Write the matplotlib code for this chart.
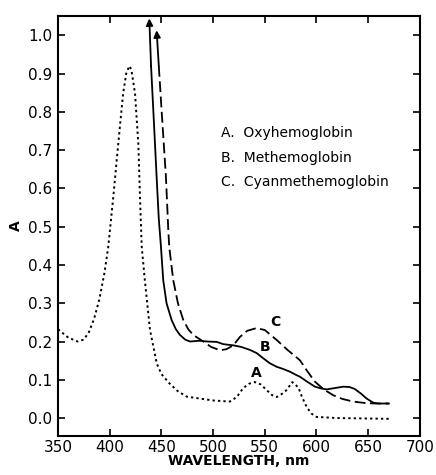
import matplotlib
matplotlib.use('Agg')
import matplotlib.pyplot as plt

# A. Oxyhemoglobin (dotted)
wl_a = [350, 360, 369, 375, 380, 385, 390, 395, 398.6, 403.5, 408.3, 413, 416, 419,
        421, 424.5, 427.7, 429.3, 431, 434, 439, 445.5, 450, 458, 466, 474.5, 487,
        500, 516, 523, 529, 535, 540.5, 546, 551.8, 557, 561.5, 566, 571, 576.6,
        582.5, 586, 590.5, 595, 600, 620, 645, 670]
abs_a = [0.232, 0.21, 0.20, 0.205, 0.225, 0.26, 0.31, 0.38, 0.447, 0.578, 0.717, 0.848,
         0.9, 0.92, 0.91, 0.848, 0.717, 0.578, 0.447, 0.36, 0.23, 0.143, 0.115, 0.09,
         0.07, 0.056, 0.051, 0.046, 0.043, 0.055, 0.078, 0.09, 0.094, 0.088, 0.073,
         0.06, 0.055, 0.062, 0.073, 0.094, 0.08, 0.055, 0.029, 0.012, 0.003, 0.0,
         -0.001, -0.002]

# B. Methemoglobin (solid)
wl_b = [438.3, 440, 442.2, 445.4, 447.5, 449.6, 451.8, 455, 459.9, 464, 468, 473, 477.6,
        487, 494, 503.5, 510, 519.6, 527, 535.7, 542, 548.6, 555, 561.5, 568, 574.4,
        580, 584, 591, 598.5, 605, 609.8, 617, 626, 632, 637, 643, 648.5, 655, 660, 670]
abs_b = [1.044, 0.92, 0.804, 0.63, 0.52, 0.447, 0.36, 0.3, 0.256, 0.232, 0.217, 0.205,
         0.2, 0.202, 0.2, 0.199, 0.193, 0.19, 0.186, 0.178, 0.17, 0.156, 0.143, 0.134,
         0.128, 0.121, 0.113, 0.108, 0.095, 0.082, 0.077, 0.075, 0.078, 0.082, 0.081,
         0.076, 0.064, 0.051, 0.04, 0.038, 0.038]

# C. Cyanmethemoglobin (dashed)
wl_c = [445.4, 447.5, 450.2, 454.4, 456.7, 457.6, 461.5, 466, 471.2, 476, 480.9, 490.5,
        498, 506.7, 513, 519.6, 526, 533, 542, 550, 561.5, 572, 584, 591, 598.5, 607,
        616, 625, 635.6, 648, 658, 670]
abs_c = [1.013, 0.92, 0.804, 0.63, 0.49, 0.447, 0.36, 0.3, 0.256, 0.232, 0.217, 0.2,
         0.186, 0.177, 0.18, 0.19, 0.212, 0.228, 0.235, 0.23, 0.204, 0.178, 0.151,
         0.123, 0.095, 0.075, 0.06, 0.05, 0.043, 0.039, 0.038, 0.038]

legend_lines = ['A.  Oxyhemoglobin', 'B.  Methemoglobin', 'C.  Cyanmethemoglobin']
x_ticks = [350, 400, 450, 500, 550, 600, 650, 700]
y_ticks = [0.0, 0.1, 0.2, 0.3, 0.4, 0.5, 0.6, 0.7, 0.8, 0.9, 1.0]

fig = plt.figure(figsize=(4.36, 4.75), dpi=100)
ax = fig.add_axes([0.133, 0.082, 0.83, 0.884])

ax.plot(wl_a, abs_a, color='k', lw=1.4, linestyle=(0, (1.2, 1.6)))
ax.plot(wl_b[1:], abs_b[1:], color='k', lw=1.3)
ax.plot(wl_c[1:], abs_c[1:], color='k', lw=1.3, linestyle=(0, (6, 2.5)))

# arrowheads at top of B and C
for wl, ab in ((wl_b, abs_b), (wl_c, abs_c)):
    ax.annotate('', xy=(wl[0], ab[0]), xytext=(wl[1], ab[1]),
                arrowprops=dict(arrowstyle='-|>', color='k', lw=1.3,
                                mutation_scale=10, shrinkA=0, shrinkB=0))

ax.set_xlim(350, 700)
ax.set_ylim(-0.047, 1.05)
ax.set_xticks(x_ticks)
ax.set_yticks(y_ticks)
ax.set_yticklabels([f'{v:.1f}' for v in y_ticks])
ax.tick_params(direction='in', length=5, width=1.2, top=True, right=True,
               labelsize=11, pad=4)
ax.tick_params(axis='x', pad=3)
for s in ax.spines.values():
    s.set_linewidth(1.5)

ax.set_xlabel('WAVELENGTH, nm', fontsize=10, fontweight='bold', labelpad=-1)
ax.text(-0.115, 0.5, 'A', transform=ax.transAxes, rotation=90, fontsize=10,
        fontweight='bold', ha='center', va='center')

for i, t in enumerate(legend_lines):
    ax.text(508, 0.744 - i * 0.064, t, fontsize=10, ha='left', va='center')

ax.text(542, 0.117, 'A', fontsize=10, fontweight='bold', ha='center', va='center')
ax.text(550, 0.185, 'B', fontsize=10, fontweight='bold', ha='center', va='center')
ax.text(560, 0.25, 'C', fontsize=10, fontweight='bold', ha='center', va='center')

fig.savefig('out.png', dpi=100, facecolor='white')
